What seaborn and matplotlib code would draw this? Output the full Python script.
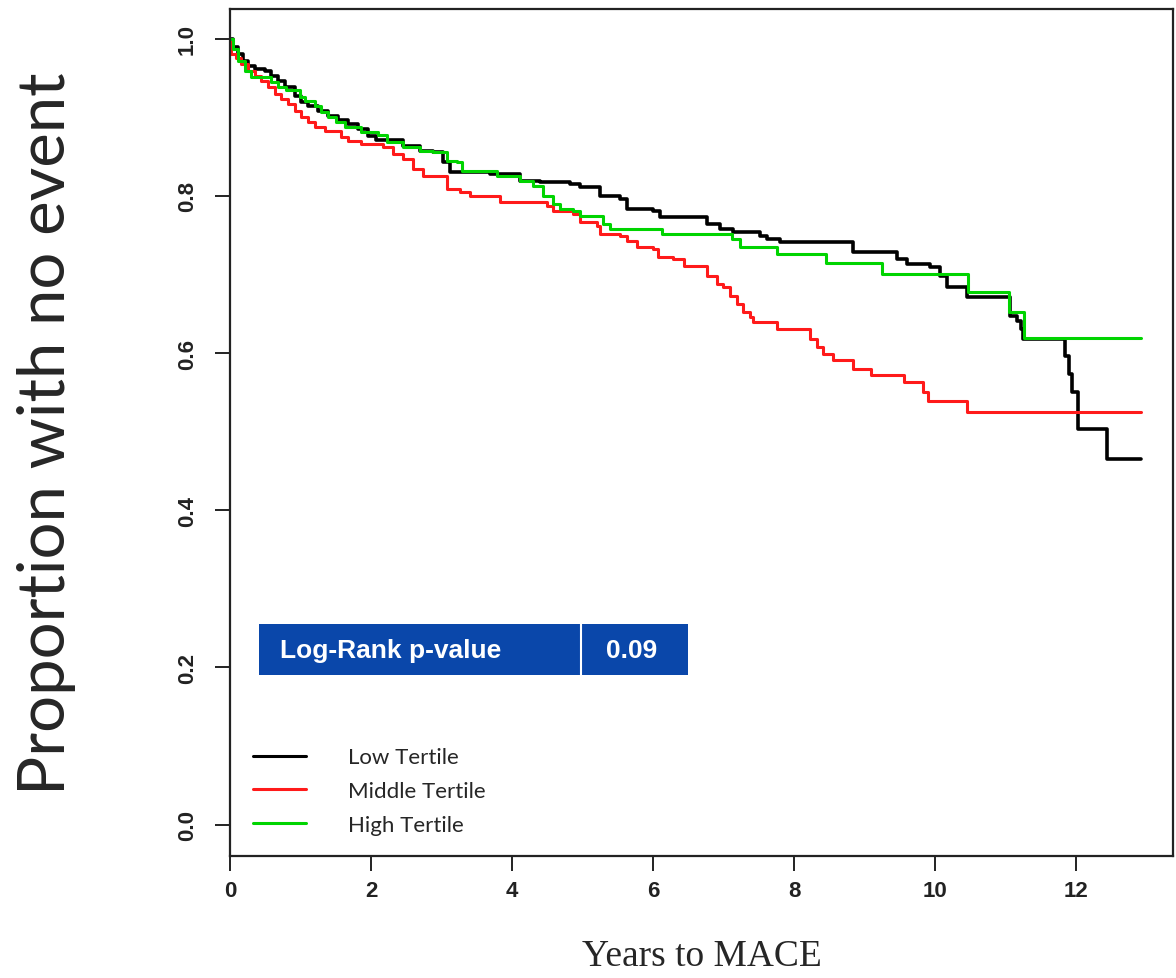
# IMPORT PACKAGES -----------------------------------------------------------------
import pandas as pd
import seaborn as sns
import matplotlib.pyplot as plt
from matplotlib.patches import Rectangle

# DATA ---------------------------------------------------------------------------
low_time = [0, 0.04, 0.11, 0.18, 0.26, 0.35, 0.50, 0.58, 0.68, 0.78, 0.92, 1.01, 1.11,
            1.25, 1.39, 1.53, 1.67, 1.82, 1.96, 2.07, 2.45, 2.70, 2.88, 3.02, 3.12,
            3.69, 4.11, 4.40, 4.82, 4.96, 5.25, 5.53, 5.63, 6.00, 6.10, 6.77, 6.95,
            7.13, 7.52, 7.62, 7.80, 8.84, 9.46, 9.60, 9.93, 10.07, 10.17, 10.45,
            11.06, 11.16, 11.21, 11.25, 11.84, 11.89, 11.94, 12.03, 12.44, 12.91]
low_surv = [1.0, 0.990, 0.981, 0.972, 0.966, 0.962, 0.959, 0.953, 0.946, 0.939, 0.927,
            0.920, 0.915, 0.908, 0.902, 0.897, 0.892, 0.885, 0.876, 0.871, 0.864,
            0.857, 0.856, 0.843, 0.831, 0.828, 0.819, 0.818, 0.815, 0.811, 0.800,
            0.796, 0.783, 0.781, 0.773, 0.764, 0.758, 0.754, 0.749, 0.745, 0.741,
            0.729, 0.720, 0.713, 0.710, 0.698, 0.684, 0.671, 0.647, 0.641, 0.631,
            0.618, 0.596, 0.573, 0.550, 0.503, 0.465, 0.465]

mid_time = [0, 0.02, 0.09, 0.16, 0.26, 0.35, 0.44, 0.54, 0.64, 0.72, 0.82, 0.92, 1.01,
            1.11, 1.21, 1.35, 1.57, 1.67, 1.86, 2.17, 2.31, 2.45, 2.60, 2.74, 3.08,
            3.26, 3.40, 3.83, 4.50, 4.58, 4.87, 4.96, 5.21, 5.25, 5.53, 5.63, 5.77,
            6.00, 6.07, 6.28, 6.43, 6.77, 6.91, 6.99, 7.09, 7.19, 7.28, 7.38, 7.42,
            7.76, 8.23, 8.33, 8.41, 8.55, 8.84, 9.09, 9.55, 9.83, 9.89, 10.45, 12.91]
mid_surv = [1.0, 0.981, 0.975, 0.968, 0.959, 0.953, 0.946, 0.939, 0.930, 0.924, 0.917,
            0.908, 0.901, 0.894, 0.888, 0.883, 0.875, 0.870, 0.866, 0.862, 0.854,
            0.847, 0.834, 0.825, 0.809, 0.805, 0.800, 0.792, 0.787, 0.781, 0.777,
            0.767, 0.762, 0.752, 0.749, 0.743, 0.735, 0.732, 0.722, 0.720, 0.711,
            0.698, 0.688, 0.684, 0.673, 0.662, 0.652, 0.646, 0.639, 0.631, 0.618,
            0.608, 0.599, 0.591, 0.580, 0.572, 0.563, 0.550, 0.539, 0.525, 0.525]

high_time = [0, 0.04, 0.11, 0.21, 0.30, 0.58, 0.68, 0.79, 0.99, 1.06, 1.21, 1.29, 1.39,
             1.50, 1.63, 1.86, 2.10, 2.23, 2.45, 2.70, 2.88, 3.08, 3.22, 3.29, 3.79,
             4.11, 4.30, 4.44, 4.58, 4.68, 4.87, 4.96, 5.29, 5.39, 6.13, 7.12, 7.23,
             7.76, 8.45, 9.25, 10.47, 11.04, 11.26, 12.91]
high_surv = [1.0, 0.987, 0.972, 0.959, 0.951, 0.945, 0.939, 0.935, 0.926, 0.921,
             0.914, 0.907, 0.901, 0.894, 0.888, 0.882, 0.877, 0.869, 0.862, 0.857,
             0.856, 0.845, 0.843, 0.832, 0.825, 0.819, 0.813, 0.800, 0.790, 0.783,
             0.781, 0.775, 0.764, 0.758, 0.752, 0.745, 0.735, 0.726, 0.715, 0.701,
             0.678, 0.652, 0.619, 0.619]

groups = ["Low Tertile", "Middle Tertile", "High Tertile"]
colors = ["#000000", "#FF1A1A", "#00D400"]
p_label = "Log-Rank p-value"
p_value = "0.09"

df = pd.concat([
    pd.DataFrame({"time": low_time, "surv": low_surv, "group": groups[0]}),
    pd.DataFrame({"time": mid_time, "surv": mid_surv, "group": groups[1]}),
    pd.DataFrame({"time": high_time, "surv": high_surv, "group": groups[2]}),
])

# PLOT ----------------------------------------------------------------------------
sns.set_style("ticks")
plt.rcParams["font.family"] = ["Liberation Sans", "DejaVu Sans"]

fig = plt.figure(figsize=(11.76, 9.79), dpi=100)
ax = fig.add_axes([0.1956, 0.1246, 0.8018, 0.8652])

sns.lineplot(data=df, x="time", y="surv", hue="group", hue_order=groups,
             palette=colors, drawstyle="steps-post", estimator=None,
             errorbar=None, linewidth=2.2, ax=ax)
ax.lines[0].set_linewidth(2.6)

ax.set_xlim(0, 13.37)
ax.set_ylim(-0.04, 1.038)
ax.set_xticks(range(0, 13, 2))
ax.set_yticks([0.0, 0.2, 0.4, 0.6, 0.8, 1.0])
ax.set_yticklabels(["0.0", "0.2", "0.4", "0.6", "0.8", "1.0"],
                   rotation=90, va="center")
ax.tick_params(axis="both", direction="out", length=11, width=1.4,
               labelsize=16, colors="#222222", bottom=True, left=True)
ax.tick_params(axis="y", pad=12)
ax.tick_params(axis="x", pad=6)
for lab in ax.get_xticklabels() + ax.get_yticklabels():
    lab.set_fontweight("bold")
for sp in ax.spines.values():
    sp.set_linewidth(1.6)
    sp.set_color("#222222")

ax.set_ylabel("Proportion with no event", fontsize=47, family="Lato")
ax.yaxis.set_label_coords(-0.163, 0.5)

# p-value box
blue = "#0A47AA"
ax.add_patch(Rectangle((0.41, 0.19), 6.09, 0.065, facecolor=blue, edgecolor="none"))
ax.plot([4.98, 4.98], [0.19, 0.255], color="white", lw=1.5)
ax.text(0.71, 0.2225, p_label, color="white", fontsize=19, fontweight="bold",
        va="center", ha="left")
ax.text(5.70, 0.2225, p_value, color="white", fontsize=19, fontweight="bold",
        va="center", ha="center")

leg = ax.legend(loc="lower left", bbox_to_anchor=(0.024, 0.025), frameon=False,
                handlelength=2.4, handletextpad=1.9, labelspacing=0.62,
                borderpad=0, borderaxespad=0, prop={"family": "Lato", "size": 16})
ax.set_xlabel("Years to MACE", fontsize=27, family="Liberation Serif", labelpad=27)

fig.savefig("out.png", dpi=100)
